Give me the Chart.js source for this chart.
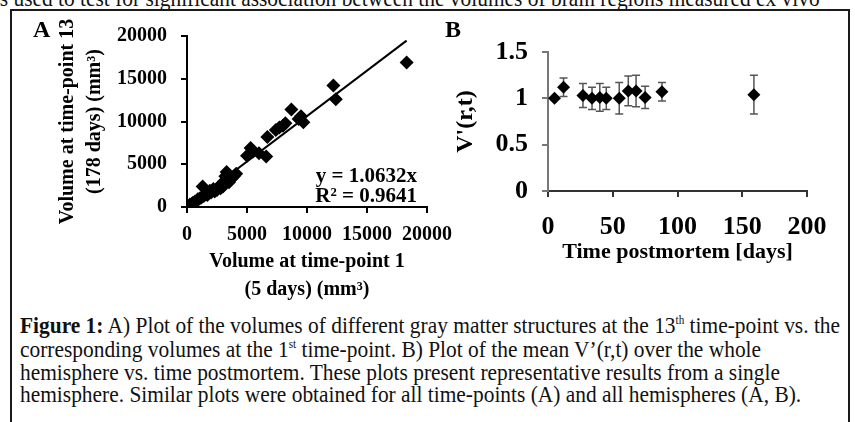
<!DOCTYPE html>
<html>
<head>
<meta charset="utf-8">
<script src="https://cdn.jsdelivr.net/npm/chart.js"></script>
<style>
  body { margin: 0; background: #fff; width: 855px; height: 422px; overflow: hidden; position: relative; font-family: "Liberation Serif", "Times New Roman", serif; }
  #frame { position: absolute; left: 10px; top: 9px; width: 836px; height: 500px; border: 2px solid #1a1a1a; }
  canvas { position: absolute; }
  .line { position: absolute; left: 20px; font-size: 23px; line-height: 23px; white-space: nowrap; color: #111; transform-origin: 0 0; }
  .line sup { font-size: 12px; vertical-align: 0; position: relative; top: -9px; }
  #topline { position: absolute; right: 35px; top: -13px; font-size: 23px; line-height: 23px; white-space: nowrap; color: #111; transform-origin: 100% 0; }
</style>
</head>
<body>
<div id="topline">was used to test for significant association between the volumes of brain regions measured ex vivo</div>
<div id="frame"></div>
<canvas id="chartA" width="450" height="300" style="left:12px;top:10px"></canvas>
<canvas id="chartB" width="408" height="300" style="left:440px;top:10px"></canvas>
<div class="line" id="cap1" style="top:314px"><b>Figure 1:</b> A) Plot of the volumes of different gray matter structures at the 13<sup>th</sup> time-point vs. the</div>
<div class="line" style="top:338px">corresponding volumes at the 1<sup>st</sup> time-point. B) Plot of the mean V’(r,t) over the whole</div>
<div class="line" style="top:361px">hemisphere vs. time postmortem. These plots present representative results from a single</div>
<div class="line" style="top:383px">hemisphere. Similar plots were obtained for all time-points (A) and all hemispheres (A, B).</div>
<script>
// panel A: volumes at time-point 1 (5 days) vs time-point 13 (178 days), mm3
var volDay5 = [50, 150, 250, 400, 500, 650, 800, 900, 1050, 1200, 1300, 1400, 1600, 1700, 1900, 2000, 2200, 2300, 2500, 2600, 2800, 2900, 3000, 3100, 3200, 3300, 3400, 3500, 3700, 3900, 4100, 5000, 5300, 5500, 6000, 6600, 6700, 7400, 7700, 8000, 8200, 8700, 9300, 9500, 9700, 12200, 12400, 18300];
var volDay178 = [50, 100, 300, 350, 500, 600, 700, 900, 1000, 1100, 2400, 1300, 1500, 1400, 1900, 1700, 2100, 1800, 2000, 2300, 2200, 2700, 2400, 3000, 3600, 4100, 3800, 2900, 3300, 3600, 3900, 6000, 6900, 6500, 6300, 5900, 8200, 9000, 9300, 9500, 9800, 11400, 10300, 10600, 9900, 14200, 12600, 16900];
var trendX = [0, 18300];
var trendY = [0, 19457];
var volTicks = [0, 5000, 10000, 15000, 20000];

// panel B: mean V'(r,t) over the hemisphere vs time postmortem
var days = [5, 12, 27, 34, 40, 45, 55, 62, 68, 75, 88, 159];
var meanV = [1.00, 1.12, 1.03, 1.00, 1.01, 1.00, 1.00, 1.08, 1.08, 1.01, 1.07, 1.04];
var errV = [0, 0.10, 0.13, 0.12, 0.15, 0.12, 0.17, 0.16, 0.17, 0.12, 0.10, 0.21];
var dayTicks = [0, 50, 100, 150, 200];
var vTicks = [0, 0.5, 1, 1.5];

Chart.defaults.font.family = '"Liberation Serif", "Times New Roman", serif';
Chart.defaults.color = '#000';

// caption lines are a bit condensed in the original
var cap1 = document.getElementById('cap1');
var k = 820 / cap1.scrollWidth;
document.querySelectorAll('.line').forEach(function (el) { el.style.transform = 'scaleX(' + k + ')'; });
document.getElementById('topline').style.transform = 'scaleX(' + k + ')';

var bold = function (size, lh) { return { size: size, weight: 'bold', lineHeight: lh || 1.2 }; };
var fixedTicks = function (list) {
    return function (s) { s.ticks = list.map(function (v) { return { value: v }; }); };
};
var plain = function (v) { return String(v); };

var panelLabel = function (txt, x, y) {
    return {
        id: 'panelLabel',
        afterDraw: function (chart) {
            var ctx = chart.ctx;
            ctx.save();
            ctx.font = 'bold 24px "Liberation Serif", serif';
            ctx.fillStyle = '#000';
            ctx.fillText(txt, x, y);
            ctx.restore();
        }
    };
};

var equationText = {
    id: 'equationText',
    afterDraw: function (chart) {
        var ctx = chart.ctx, a = chart.chartArea;
        ctx.save();
        ctx.font = 'bold 21px "Liberation Serif", serif';
        ctx.fillStyle = '#000';
        ctx.textAlign = 'right';
        ctx.textBaseline = 'middle';
        ctx.fillText('y = 1.0632x', a.right - 10, a.bottom - 30);
        ctx.fillText('R² = 0.9641', a.right - 10, a.bottom - 10);
        ctx.restore();
    }
};

var errorBars = {
    id: 'errorBars',
    beforeDatasetsDraw: function (chart) {
        var ctx = chart.ctx, x = chart.scales.x, y = chart.scales.y;
        ctx.save();
        ctx.strokeStyle = '#555';
        ctx.lineWidth = 1.5;
        days.forEach(function (d, i) {
            if (!errV[i]) return;
            var px = x.getPixelForValue(d);
            var top = y.getPixelForValue(meanV[i] + errV[i]);
            var bot = y.getPixelForValue(meanV[i] - errV[i]);
            ctx.beginPath();
            ctx.moveTo(px, top); ctx.lineTo(px, bot);
            ctx.moveTo(px - 4, top); ctx.lineTo(px + 4, top);
            ctx.moveTo(px - 4, bot); ctx.lineTo(px + 4, bot);
            ctx.stroke();
        });
        ctx.restore();
    }
};

new Chart(document.getElementById('chartA'), {
    type: 'scatter',
    data: {
        datasets: [{
            data: volDay5.map(function (v, i) { return { x: v, y: volDay178[i] }; }),
            pointStyle: 'rectRot',
            pointRadius: 7,
            backgroundColor: '#000',
            borderWidth: 0
        }, {
            data: trendX.map(function (v, i) { return { x: v, y: trendY[i] }; }),
            showLine: true,
            borderColor: '#000',
            borderWidth: 2,
            pointRadius: 0
        }]
    },
    options: {
        responsive: false,
        animation: false,
        layout: { padding: { left: 0, top: 16, right: 32, bottom: 0 } },
        plugins: { legend: { display: false }, tooltip: { enabled: false } },
        scales: {
            x: {
                type: 'linear', min: 0, max: 20000,
                afterFit: function (s) { s.height = 103; },
                afterBuildTicks: fixedTicks(volTicks),
                ticks: { font: bold(20), padding: 10, maxRotation: 0, autoSkip: false, callback: plain },
                grid: { drawOnChartArea: false, tickLength: 6, color: '#000', lineWidth: 2 },
                border: { color: '#000', width: 2 },
                title: { display: true, text: ['Volume at time-point 1', '(5 days) (mm³)'], font: bold(20, 1.4), padding: { top: 0, bottom: 6 } }
            },
            y: {
                min: 0, max: 20000,
                afterFit: function (s) { s.width = 175; },
                afterBuildTicks: fixedTicks(volTicks),
                ticks: { font: bold(20), padding: 14, callback: plain },
                grid: { drawOnChartArea: false, tickLength: 6, color: '#000', lineWidth: 2 },
                border: { color: '#000', width: 2 },
                title: { display: true, text: ['Volume at time-point 13', '(178 days) (mm³)'], font: bold(20, 1.35), padding: { top: 42, bottom: 0 } }
            }
        }
    },
    plugins: [equationText, panelLabel('A', 21, 27)]
});

new Chart(document.getElementById('chartB'), {
    type: 'scatter',
    data: {
        datasets: [{
            data: days.map(function (d, i) { return { x: d, y: meanV[i] }; }),
            pointStyle: 'rectRot',
            pointRadius: 6.5,
            backgroundColor: '#000',
            borderWidth: 0
        }]
    },
    options: {
        responsive: false,
        animation: false,
        layout: { padding: { left: 0, top: 42, right: 41, bottom: 0 } },
        plugins: { legend: { display: false }, tooltip: { enabled: false } },
        scales: {
            x: {
                type: 'linear', min: 0, max: 200,
                afterFit: function (s) { s.height = 119; },
                afterBuildTicks: fixedTicks(dayTicks),
                ticks: { font: bold(26), padding: 15, maxRotation: 0, autoSkip: false, callback: plain },
                grid: { drawOnChartArea: false, tickLength: 6, color: '#333', lineWidth: 2 },
                border: { color: '#333', width: 2 },
                title: { display: true, text: 'Time postmortem [days]', font: bold(22), padding: { top: 0, bottom: 44 } }
            },
            y: {
                min: 0, max: 1.5,
                afterFit: function (s) { s.width = 108; },
                afterBuildTicks: fixedTicks(vTicks),
                ticks: { font: bold(26), padding: 14, callback: plain },
                grid: { drawOnChartArea: false, tickLength: 6, color: '#777', lineWidth: 2 },
                border: { color: '#777', width: 2 },
                title: { display: true, text: "V'(r,t)", font: bold(24), padding: { top: 11, bottom: 0 } }
            }
        }
    },
    plugins: [errorBars, panelLabel('B', 5, 27)]
});
</script>
</body>
</html>
